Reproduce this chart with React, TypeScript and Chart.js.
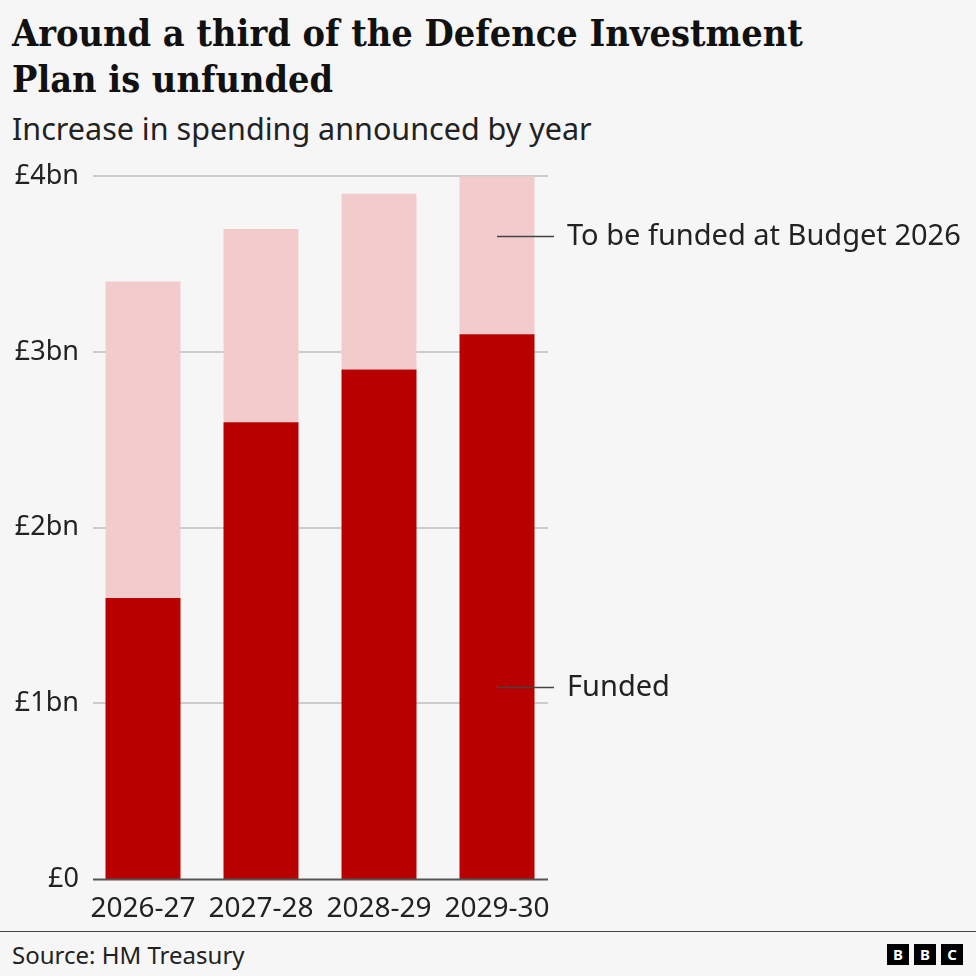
import React, { useEffect, useRef } from "react";
import { Chart, registerables } from "chart.js";

Chart.register(...registerables);

// Spending increases by financial year, £bn
const years = ["2026-27", "2027-28", "2028-29", "2029-30"];
const funded = [1.6, 2.6, 2.9, 3.1];
const toBeFunded = [1.8, 1.1, 1.0, 0.9];

const yTickValues = [0, 1, 2, 3, 4];
const yTickLabels = ["£0", "£1bn", "£2bn", "£3bn", "£4bn"];

const seriesNames = ["Funded", "To be funded at Budget 2026"];

const FUNDED_RED = "#b80000";
const UNFUNDED_PINK = "#f2cccc";
const TEXT = "#222222";
const BG = "#f6f6f6";
const SANS = '"Noto Sans", "Open Sans", sans-serif';

// Horizontal guides behind the bars, plus the darker baseline in front
const guides = {
  id: "guides",
  beforeDatasetsDraw(chart: any) {
    const { ctx, chartArea, scales } = chart;
    const y = scales.y;
    ctx.save();
    ctx.strokeStyle = "#cccccc";
    ctx.lineWidth = 2;
    yTickValues.forEach((v) => {
      if (v === 0) return;
      const py = Math.round(y.getPixelForValue(v));
      ctx.beginPath();
      ctx.moveTo(chartArea.left + 9, py);
      ctx.lineTo(chartArea.right - 8, py);
      ctx.stroke();
    });
    ctx.restore();
  },
  afterDatasetsDraw(chart: any) {
    const { ctx, chartArea, scales } = chart;
    const y = scales.y;
    const py = Math.round(y.getPixelForValue(0)) + 0.5;
    ctx.save();
    ctx.strokeStyle = "#555555";
    ctx.lineWidth = 2;
    ctx.beginPath();
    ctx.moveTo(chartArea.left + 9, py);
    ctx.lineTo(chartArea.right - 8, py);
    ctx.stroke();
    ctx.restore();
  },
};

// Series names placed beside the last bar with short leader lines
const seriesLabels = {
  id: "seriesLabels",
  afterDatasetsDraw(chart: any) {
    const { ctx, scales } = chart;
    const x = scales.x;
    const y = scales.y;
    const cx = x.getPixelForValue(years.length - 1);
    const anchors = [
      { text: seriesNames[0], value: 1.09 },
      { text: seriesNames[1], value: 3.66 },
    ];
    ctx.save();
    ctx.strokeStyle = "#444444";
    ctx.lineWidth = 1.5;
    ctx.fillStyle = TEXT;
    ctx.font = `29px ${SANS}`;
    ctx.textBaseline = "middle";
    ctx.textAlign = "left";
    anchors.forEach((a) => {
      const py = Math.round(y.getPixelForValue(a.value)) + 0.5;
      ctx.beginPath();
      ctx.moveTo(cx, py);
      ctx.lineTo(cx + 57, py);
      ctx.stroke();
      ctx.fillText(a.text, cx + 70, py);
    });
    ctx.restore();
  },
};

function BarChart() {
  const ref = useRef<HTMLCanvasElement | null>(null);

  useEffect(() => {
    if (!ref.current) return;
    const chart = new Chart(ref.current, {
      type: "bar",
      data: {
        labels: years,
        datasets: [
          {
            label: seriesNames[0],
            data: funded,
            backgroundColor: FUNDED_RED,
            borderWidth: 0,
          },
          {
            label: seriesNames[1],
            data: toBeFunded,
            backgroundColor: UNFUNDED_PINK,
            borderWidth: 0,
          },
        ],
      },
      options: {
        responsive: false,
        animation: false,
        devicePixelRatio: 1,
        layout: { padding: { top: 16, right: 420, bottom: 0, left: 0 } },
        datasets: {
          bar: { barPercentage: 1, categoryPercentage: 75 / 118 },
        },
        plugins: {
          legend: { display: false },
          tooltip: { enabled: false },
          title: { display: false },
        },
        scales: {
          x: {
            stacked: true,
            grid: { display: false, drawTicks: false },
            border: { display: false },
            ticks: {
              color: TEXT,
              font: { family: SANS, size: 28 },
              padding: 13,
              maxRotation: 0,
              autoSkip: false,
            },
            afterFit(scale: any) {
              scale.height = 41;
            },
          },
          y: {
            stacked: true,
            min: 0,
            max: 4,
            grid: { display: false, drawTicks: false },
            border: { display: false },
            afterBuildTicks(scale: any) {
              scale.ticks = yTickValues.map((v) => ({ value: v }));
            },
            ticks: {
              color: TEXT,
              font: { family: SANS, size: 27 },
              padding: 5,
              callback: (v: any) => {
                const i = yTickValues.indexOf(Number(v));
                return i >= 0 ? yTickLabels[i] : "";
              },
            },
            afterFit(scale: any) {
              scale.width = 84;
            },
          },
        },
      },
      plugins: [guides, seriesLabels],
    });
    return () => chart.destroy();
  }, []);

  return (
    <canvas
      ref={ref}
      width={976}
      height={765}
      style={{ position: "absolute", left: 0, top: 155, width: 976, height: 765 }}
    />
  );
}

export default function App() {
  useEffect(() => {
    document.body.style.margin = "0";
    document.body.style.background = BG;
  }, []);

  const square: React.CSSProperties = {
    position: "absolute",
    top: 944,
    width: 22,
    height: 21,
    background: "#000",
    color: "#fff",
    font: `bold 15px ${SANS}`,
    lineHeight: "21px",
    textAlign: "center",
  };

  return (
    <div
      style={{
        position: "fixed",
        left: 0,
        top: 0,
        width: 976,
        height: 976,
        background: BG,
        overflow: "hidden",
        color: TEXT,
      }}
    >
      <div
        style={{
          position: "absolute",
          left: 12,
          top: 10,
          width: 940,
          fontFamily: '"DejaVu Serif Condensed", "DejaVu Serif", serif',
          fontStretch: "condensed",
          fontWeight: "bold",
          fontSize: 37.5,
          lineHeight: "46px",
          color: "#111",
        }}
      >
        Around a third of the Defence Investment
        <br />
        Plan is unfunded
      </div>
      <div
        style={{
          position: "absolute",
          left: 12,
          top: 110,
          fontFamily: SANS,
          fontSize: 30.5,
          lineHeight: "36px",
        }}
      >
        Increase in spending announced by year
      </div>
      <BarChart />
      <div
        style={{
          position: "absolute",
          left: 0,
          top: 931,
          width: 976,
          height: 1,
          background: "#444",
        }}
      />
      <div
        style={{
          position: "absolute",
          left: 12,
          top: 939,
          fontFamily: SANS,
          fontSize: 24,
          lineHeight: "32px",
        }}
      >
        Source: HM Treasury
      </div>
      <div style={{ ...square, left: 887 }}>B</div>
      <div style={{ ...square, left: 914 }}>B</div>
      <div style={{ ...square, left: 941 }}>C</div>
    </div>
  );
}
